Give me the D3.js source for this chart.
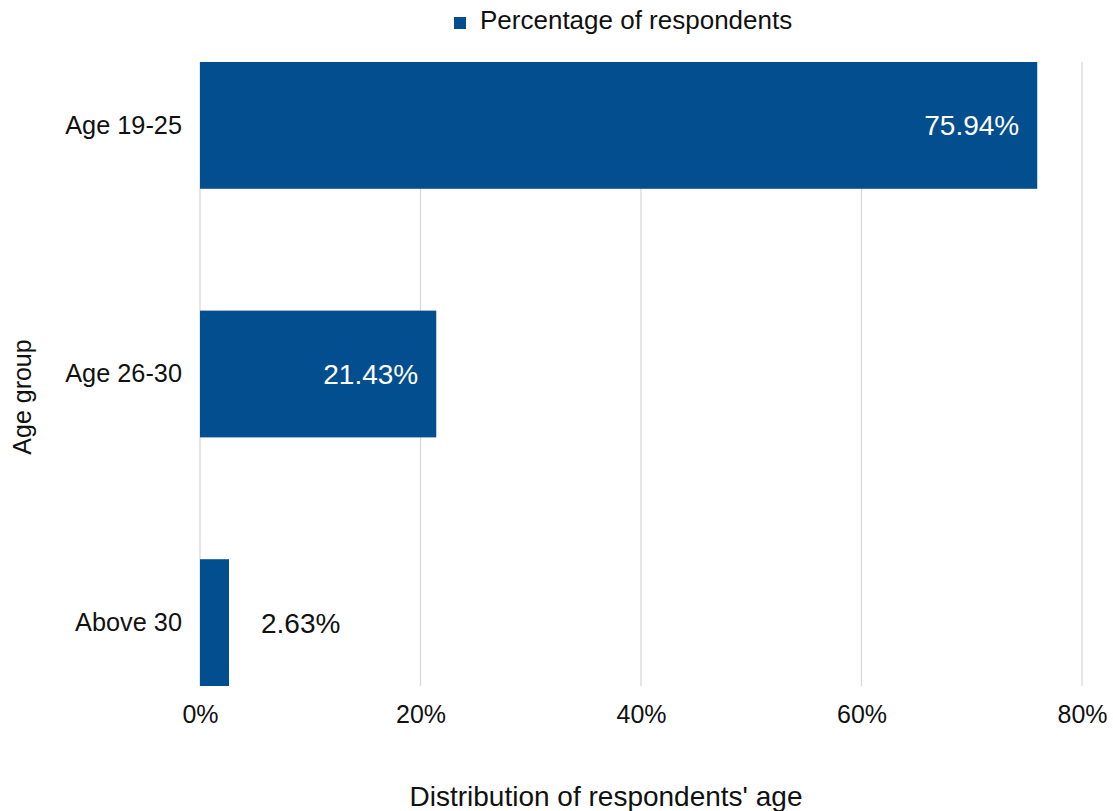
<!DOCTYPE html>
<html>
<head>
<meta charset="utf-8">
<script src="https://cdn.jsdelivr.net/npm/d3@7"></script>
<style>
  html, body { margin: 0; padding: 0; background: #fff; }
  svg text { font-family: "Liberation Sans", Arial, sans-serif; fill: #111; }
</style>
</head>
<body>
<svg id="chart" width="1113" height="811"></svg>
<script>
// Age distribution of survey respondents
const categories = ["Age 19-25", "Age 26-30", "Above 30"];
const values = [75.94, 21.43, 2.63];
const tickValues = [0, 20, 40, 60, 80];
const seriesName = "Percentage of respondents";
const xTitle = "Distribution of respondents' age";
const yTitle = "Age group";

const W = 1113, H = 811;
const margin = { top: 62, right: 31, bottom: 125, left: 200 };
const barColor = "#034E8F";
const gridColor = "#d9d9d9";

const svg = d3.select("#chart");
const innerW = W - margin.left - margin.right;
const innerH = H - margin.top - margin.bottom;

const x = d3.scaleLinear().domain([0, 80]).range([0, innerW]);
const y = d3.scaleBand().domain(categories).range([0, innerH])
  .paddingInner(0.49).paddingOuter(0);

const g = svg.append("g").attr("transform", `translate(${margin.left},${margin.top})`);

// vertical gridlines
g.append("g")
  .selectAll("line")
  .data(tickValues)
  .join("line")
  .attr("x1", d => x(d)).attr("x2", d => x(d))
  .attr("y1", 0).attr("y2", innerH)
  .attr("stroke", gridColor).attr("stroke-width", 1.3);

// bars
g.append("g")
  .selectAll("rect")
  .data(categories)
  .join("rect")
  .attr("x", x(0))
  .attr("y", d => y(d))
  .attr("width", (d, i) => x(values[i]) - x(0))
  .attr("height", y.bandwidth())
  .attr("fill", barColor);

// value labels: inside the bar end when wide enough, otherwise just past it
g.append("g")
  .selectAll("text")
  .data(categories)
  .join("text")
  .each(function (d, i) {
    const v = values[i];
    const inside = x(v) - x(0) > 120;
    d3.select(this)
      .attr("x", inside ? x(v) - 18 : x(v) + 32)
      .attr("y", y(d) + y.bandwidth() / 2)
      .attr("dy", "0.36em")
      .attr("text-anchor", inside ? "end" : "start")
      .style("fill", inside ? "#fff" : "#111")
      .style("font-size", "28px")
      .text(v.toFixed(2) + "%");
  });

// x axis tick labels
const xAxis = d3.axisBottom(x)
  .tickValues(tickValues)
  .tickSize(0)
  .tickPadding(0)
  .tickFormat(d => d + "%");
const xg = g.append("g").attr("transform", `translate(0,${innerH + 37})`).call(xAxis);
xg.select(".domain").remove();
xg.selectAll("text").attr("dy", 0).style("font-size", "25px").style("font-family", null).attr("fill", null);

// y axis category labels
const yAxis = d3.axisLeft(y).tickSize(0).tickPadding(18);
const yg = g.append("g").call(yAxis);
yg.select(".domain").remove();
yg.selectAll("text").attr("dy", "0.32em").style("font-size", "25.3px").style("font-family", null).attr("fill", null);

// axis titles
svg.append("text")
  .attr("x", 606)
  .attr("y", 806)
  .attr("text-anchor", "middle")
  .style("font-size", "28px")
  .text(xTitle);

svg.append("text")
  .attr("transform", `translate(31,397) rotate(-90)`)
  .attr("text-anchor", "middle")
  .style("font-size", "25px")
  .text(yTitle);

// legend
const legend = svg.append("g");
legend.append("rect")
  .attr("x", 454).attr("y", 17)
  .attr("width", 12).attr("height", 12)
  .attr("fill", barColor);
legend.append("text")
  .attr("x", 480).attr("y", 29)
  .style("font-size", "26px")
  .text(seriesName);
</script>
</body>
</html>
